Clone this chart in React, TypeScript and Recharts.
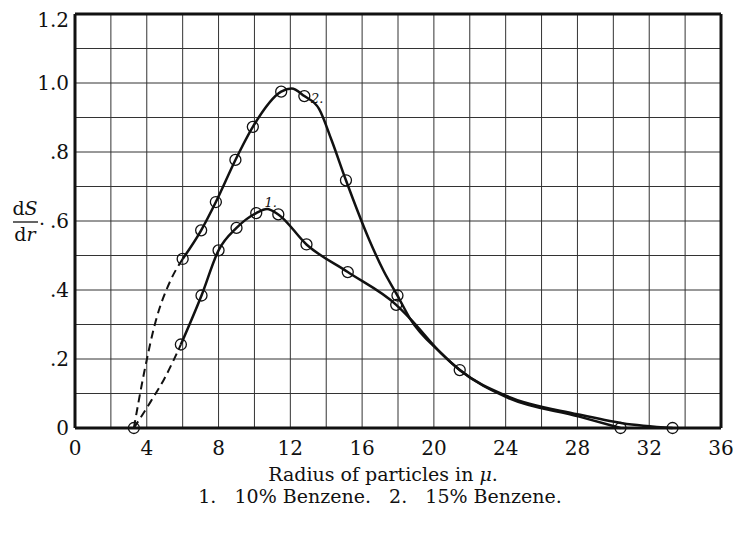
import {
  ComposedChart,
  Line,
  Scatter,
  XAxis,
  YAxis,
  ReferenceLine,
  ReferenceDot,
  Customized,
} from 'recharts';

// curve 1 : 10% benzene
const curve1R = [5.9, 7.05, 8.0, 9.0, 10.1, 10.7, 11.33, 12.9, 15.2, 17.9, 18.66, 20.4, 21.44, 24.1, 28.0, 30.5, 33.3];
const curve1V = [0.242, 0.384, 0.515, 0.58, 0.623, 0.635, 0.619, 0.532, 0.452, 0.357, 0.318, 0.217, 0.168, 0.092, 0.04, 0.014, 0];
const dash1R = [3.28, 4.2, 4.95, 5.9];
const dash1V = [0, 0.075, 0.14, 0.242];
const marks1R = [5.9, 7.05, 8.0, 9.0, 10.1, 11.33, 12.9, 15.2, 17.9, 21.44, 33.3];
const marks1V = [0.242, 0.384, 0.515, 0.58, 0.623, 0.619, 0.532, 0.452, 0.357, 0.168, 0];

// curve 2 : 15% benzene
const curve2R = [6.0, 7.03, 7.85, 8.94, 9.91, 11.49, 12.07, 12.78, 13.6, 14.3, 15.1, 16.4, 17.2, 17.97, 18.66, 20.4, 21.44, 24.1, 28.1, 30.4];
const curve2V = [0.49, 0.573, 0.655, 0.777, 0.873, 0.975, 0.984, 0.962, 0.925, 0.834, 0.718, 0.545, 0.455, 0.384, 0.318, 0.217, 0.168, 0.088, 0.033, 0];
const dash2R = [3.28, 3.85, 4.5, 5.3, 6.0];
const dash2V = [0, 0.16, 0.31, 0.425, 0.49];
const marks2R = [3.28, 6.0, 7.03, 7.85, 8.94, 9.91, 11.49, 12.78, 15.1, 17.97, 30.4];
const marks2V = [0, 0.49, 0.573, 0.655, 0.777, 0.873, 0.975, 0.962, 0.718, 0.384, 0];

const curveTags = ['1.', '2.'];
const tagR = [10.9, 13.5];
const tagV = [0.655, 0.955];

const xTicks = [0, 4, 8, 12, 16, 20, 24, 28, 32, 36];
const yTicks = [0, 0.2, 0.4, 0.6, 0.8, 1.0, 1.2];
const yTickLabels = ['0', '.2', '.4', '.6', '.8', '1.0', '1.2'];
const gridX = [2, 4, 6, 8, 10, 12, 14, 16, 18, 20, 22, 24, 26, 28, 30, 32, 34];
const gridY = [0.1, 0.2, 0.3, 0.4, 0.5, 0.6, 0.7, 0.8, 0.9, 1.0, 1.1];

const zip = (rs: number[], vs: number[]) => rs.map((r, i) => ({ r, v: vs[i] }));

const SERIF = '"DejaVu Serif", serif';
const INK = '#111';

const Ring = (props: any) => (
  <circle cx={props.cx} cy={props.cy} r={5.5} fill="none" stroke={INK} strokeWidth={1.3} />
);

// axis title (fraction) and the two caption lines under the chart
const Captions = () => (
  <g fontFamily={SERIF} fill={INK}>
    <text x={17} y={207} fontSize={19} textAnchor="middle">
      d<tspan fontStyle="italic">S</tspan>
    </text>
    <line x1={5} x2={30} y1={214} y2={214} stroke={INK} strokeWidth={1.3} />
    <text x={17} y={233} fontSize={19} textAnchor="middle">
      d<tspan fontStyle="italic">r</tspan>
    </text>
    <text x={31} y={217} fontSize={19}>.</text>
    <text x={375} y={473} fontSize={19} textAnchor="middle">
      Radius of particles in <tspan fontStyle="italic">μ</tspan>.
    </text>
    <text x={372} y={495} fontSize={19} textAnchor="middle" xmlSpace="preserve">
      1.   10% Benzene.   2.   15% Benzene.
    </text>
  </g>
);

export default function App() {
  return (
    <ComposedChart width={733} height={533} margin={{ top: 6, right: 20, left: 23, bottom: 83 }}>
      <XAxis
        dataKey="r"
        type="number"
        domain={[0, 36]}
        ticks={xTicks}
        height={30}
        allowDataOverflow
        axisLine={false}
        tickLine={false}
        tickSize={0}
        tickMargin={13}
        tick={{ fill: INK, fontSize: 20, fontFamily: SERIF }}
      />
      <YAxis
        type="number"
        domain={[0, 1.2]}
        ticks={yTicks}
        width={44}
        axisLine={false}
        tickLine={false}
        tickSize={0}
        tickMargin={6}
        tickFormatter={(v: number) => yTickLabels[yTicks.indexOf(v)] ?? String(v)}
        tick={{ fill: INK, fontSize: 20, fontFamily: SERIF }}
      />
      {gridX.map((x) => (
        <ReferenceLine key={'gx' + x} x={x} stroke="#333" strokeWidth={1} />
      ))}
      {gridY.map((y) => (
        <ReferenceLine key={'gy' + y} y={y} stroke="#333" strokeWidth={1} />
      ))}
      <ReferenceLine x={0} stroke={INK} strokeWidth={3} />
      <ReferenceLine x={36} stroke={INK} strokeWidth={3} />
      <ReferenceLine y={0} stroke={INK} strokeWidth={3} />
      <ReferenceLine y={1.2} stroke={INK} strokeWidth={3} />

      <Line data={zip(dash1R, dash1V)} dataKey="v" type="monotone" stroke={INK} strokeWidth={2} strokeDasharray="8 5" dot={false} isAnimationActive={false} />
      <Line data={zip(dash2R, dash2V)} dataKey="v" type="monotone" stroke={INK} strokeWidth={2} strokeDasharray="8 5" dot={false} isAnimationActive={false} />
      <Line data={zip(curve1R, curve1V)} dataKey="v" type="monotone" stroke={INK} strokeWidth={2.5} dot={false} isAnimationActive={false} />
      <Line data={zip(curve2R, curve2V)} dataKey="v" type="monotone" stroke={INK} strokeWidth={2.5} dot={false} isAnimationActive={false} />
      <Scatter data={zip(marks1R, marks1V)} dataKey="v" shape={Ring} isAnimationActive={false} />
      <Scatter data={zip(marks2R, marks2V)} dataKey="v" shape={Ring} isAnimationActive={false} />

      {curveTags.map((t, i) => (
        <ReferenceDot
          key={t}
          x={tagR[i]}
          y={tagV[i]}
          r={0}
          stroke="none"
          label={{ value: t, position: 'center', fill: INK, fontSize: 13, fontStyle: 'italic', fontFamily: SERIF }}
        />
      ))}
      <Customized component={Captions} />
    </ComposedChart>
  );
}
